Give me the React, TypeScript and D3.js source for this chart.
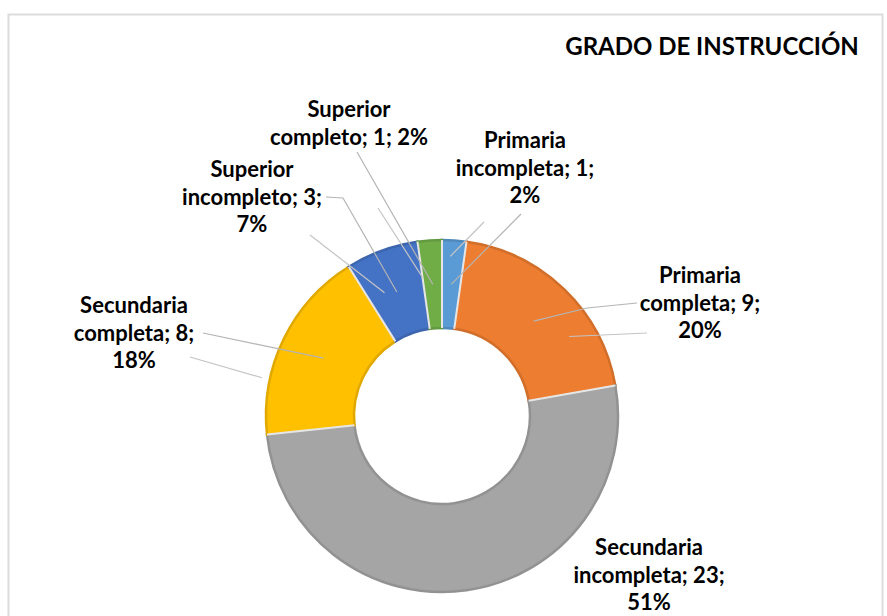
import React from "react";
import * as d3 from "d3";

const categories = [
  "Primaria incompleta",
  "Primaria completa",
  "Secundaria incompleta",
  "Secundaria completa",
  "Superior incompleto",
  "Superior completo",
];
const values = [1, 9, 23, 8, 3, 1];
const colors = ["#5B9BD5", "#ED7D31", "#A5A5A5", "#FFC000", "#4472C4", "#70AD47"];
const titleText = "GRADO DE INSTRUCCIÓN";

const W = 887;
const H = 616;
const CX = 442;
const CY = 416;
const R_OUT = 176;
const R_IN = 88;

// label layout: center x, first baseline, words per line, leader start points, ghost line
type LabelLayout = {
  x: number;
  y: number;
  breaks: number[];
  lead: [number, number][];
  ghost?: { from: [number, number]; angle: number; r: number };
};
const labelLayout: LabelLayout[] = [
  { x: 525, y: 148, breaks: [1, 2, 1], lead: [[521, 214]], ghost: { from: [484, 222], angle: 3, r: 160 } },
  { x: 700, y: 283, breaks: [1, 2, 1], lead: [[637, 303], [587, 308]], ghost: { from: [647, 333], angle: 58, r: 150 } },
  { x: 649, y: 555, breaks: [1, 2, 1], lead: [] },
  { x: 134, y: 313, breaks: [1, 2, 1], lead: [[203, 333]], ghost: { from: [190, 357], angle: 282, r: 184 } },
  { x: 252, y: 177, breaks: [1, 2, 1], lead: [[326, 197], [343, 198]], ghost: { from: [310, 235], angle: 335, r: 136 } },
  { x: 349, y: 117, breaks: [1, 3], lead: [[357, 152]], ghost: { from: [378, 208], angle: 352, r: 140 } },
];
const LINE_H = 27.5;

export default function App() {
  const total = d3.sum(values);
  const pie = d3
    .pie<number>()
    .value((d) => d)
    .sort(null)
    .startAngle(0)
    .endAngle(Math.PI * 2);
  const arcs = pie(values);
  const arc = d3.arc<d3.PieArcDatum<number>>().innerRadius(R_IN).outerRadius(R_OUT);
  const innerArc = d3.arc<d3.PieArcDatum<number>>().innerRadius(R_IN + 2).outerRadius(R_OUT - 2);

  const polar = (angDeg: number, r: number): [number, number] => {
    const a = (angDeg * Math.PI) / 180;
    return [CX + r * Math.sin(a), CY - r * Math.cos(a)];
  };

  const labelLines = (i: number) => {
    const pct = Math.round((values[i] / total) * 100);
    const text = `${categories[i]}; ${values[i]}; ${pct}%`;
    const words = text.split(" ");
    const lines: string[] = [];
    let k = 0;
    for (const n of labelLayout[i].breaks) {
      lines.push(words.slice(k, k + n).join(" "));
      k += n;
    }
    return lines;
  };

  const line = d3.line();

  return (
    <svg
      width={W}
      height={H}
      style={{ position: "absolute", left: 0, top: 0, background: "#fff" }}
    >
      <defs>
        <filter id="soft" x="-10%" y="-10%" width="120%" height="120%">
          <feGaussianBlur stdDeviation="0.6" />
        </filter>
      </defs>
      <rect x={0} y={0} width={W} height={H} fill="#fff" />
      <rect x={8.5} y={14.5} width={874} height={640} fill="#fff" stroke="#dcdcdc" strokeWidth={2} />

      <text
        x={712}
        y={55}
        textAnchor="middle"
        fontFamily="Lato, 'Open Sans', sans-serif"
        fontWeight={700}
        fontSize={24}
        fill="#000"
      >
        {titleText}
      </text>

      <g transform={`translate(${CX},${CY})`}>
        {arcs.map((a, i) => (
          <path
            key={i}
            d={arc(a) || ""}
            fill={colors[i]}
            stroke={d3.color(colors[i])!.darker(0.35).toString()}
            strokeWidth={2.5}
            filter="url(#soft)"
          />
        ))}
        {arcs.map((a, i) => (
          <path key={"f" + i} d={innerArc(a) || ""} fill={colors[i]} />
        ))}
        {arcs.map((a, i) => {
          const ang = a.startAngle;
          return (
            <line
              key={"s" + i}
              x1={R_IN * Math.sin(ang)}
              y1={-R_IN * Math.cos(ang)}
              x2={R_OUT * Math.sin(ang)}
              y2={-R_OUT * Math.cos(ang)}
              stroke="#e6e6e6"
              strokeWidth={2}
            />
          );
        })}
      </g>

      {arcs.map((a, i) => {
        const L = labelLayout[i];
        const out: React.ReactNode[] = [];
        if (L.lead.length) {
          const c = arc.centroid(a);
          const pts: [number, number][] = [...L.lead, [CX + c[0], CY + c[1]]];
          out.push(
            <path key={"l" + i} d={line(pts) || ""} fill="none" stroke="#b4b4b4" strokeWidth={1.2} />
          );
        }
        if (L.ghost) {
          const end = polar(L.ghost.angle, L.ghost.r);
          out.push(
            <path
              key={"g" + i}
              d={line([L.ghost.from, end]) || ""}
              fill="none"
              stroke="#c4c4c4"
              strokeWidth={1.2}
            />
          );
        }
        return <g key={"lg" + i}>{out}</g>;
      })}

      {arcs.map((a, i) => {
        const L = labelLayout[i];
        const lines = labelLines(i);
        return (
          <text
            key={"t" + i}
            textAnchor="middle"
            fontFamily="Lato, 'Open Sans', sans-serif"
            fontWeight={700}
            fontSize={22}
            fill="#000"
          >
            {lines.map((s, j) => (
              <tspan key={j} x={L.x} y={L.y + j * LINE_H}>
                {s}
              </tspan>
            ))}
          </text>
        );
      })}
    </svg>
  );
}
